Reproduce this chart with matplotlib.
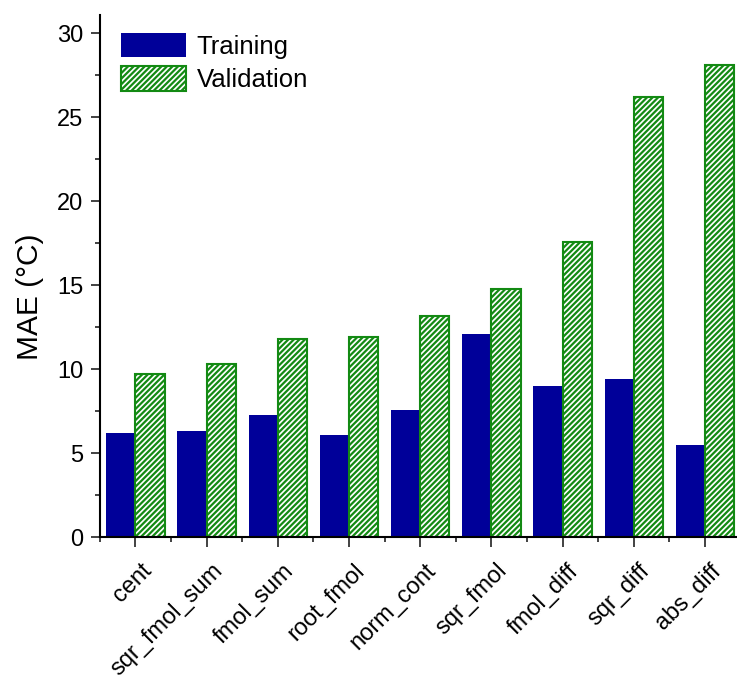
import matplotlib
matplotlib.use('Agg')
import matplotlib.pyplot as plt
import numpy as np
from matplotlib.ticker import MultipleLocator, FixedLocator
from matplotlib.transforms import ScaledTranslation

categories = ['cent', 'sqr_fmol_sum', 'fmol_sum', 'root_fmol', 'norm_cont',
              'sqr_fmol', 'fmol_diff', 'sqr_diff', 'abs_diff']
training = [6.2, 6.3, 7.3, 6.1, 7.6, 12.1, 9.0, 9.4, 5.5]
validation = [9.7, 10.3, 11.8, 11.9, 13.2, 14.8, 17.6, 26.2, 28.1]

plt.rcParams['font.family'] = ['Liberation Sans', 'DejaVu Sans']
plt.rcParams['hatch.linewidth'] = 1.6

fig = plt.figure(figsize=(7.37, 6.82), dpi=100)
ax = fig.add_axes([0.1353, 0.2122, 0.8647, 0.766])

x = np.arange(len(categories))
w = 0.41
ax.bar(x - w / 2, training, w, color='#000099', label='Training')
ax.bar(x + w / 2, validation, w, color='white', edgecolor='#138a13',
       hatch='//////', linewidth=1.5, label='Validation')

ax.set_xlim(-0.5, 8.45)
ax.set_ylim(0, 31.1)
ax.spines['top'].set_visible(False)
ax.spines['right'].set_visible(False)
ax.spines['left'].set_linewidth(1.5)
ax.spines['bottom'].set_linewidth(1.5)

ax.yaxis.set_major_locator(MultipleLocator(5))
ax.yaxis.set_minor_locator(MultipleLocator(2.5))
ax.tick_params(axis='y', which='major', length=6.8, width=1.3, labelsize=17, pad=5,
               color='#333333')
ax.tick_params(axis='y', which='minor', length=3.6, width=1.3, color='#333333')

ax.set_xticks(x)
ax.set_xticklabels(categories, rotation=45, ha='right', va='top', rotation_mode='anchor')
ax.xaxis.set_minor_locator(FixedLocator(np.arange(-0.5, 8.5, 1)))
ax.tick_params(axis='x', which='major', length=7.2, width=1.3, labelsize=17, pad=9,
               color='#333333')
ax.tick_params(axis='x', which='minor', length=3.6, width=1.3, color='#333333')
shift = ScaledTranslation(0.05, 0, fig.dpi_scale_trans)
for lab in ax.get_xticklabels():
    lab.set_transform(lab.get_transform() + shift)

ax.set_ylabel('MAE (°C)', fontsize=21.5)
ax.yaxis.set_label_coords(-0.087, 0.461)

ax.legend(loc='upper left', frameon=False, fontsize=18.5, handlelength=2.5,
          handleheight=1.1, handletextpad=0.43, labelspacing=0.3,
          borderaxespad=0.0, borderpad=0.0, bbox_to_anchor=(0.034, 0.966))

fig.savefig('out.png', dpi=100)
